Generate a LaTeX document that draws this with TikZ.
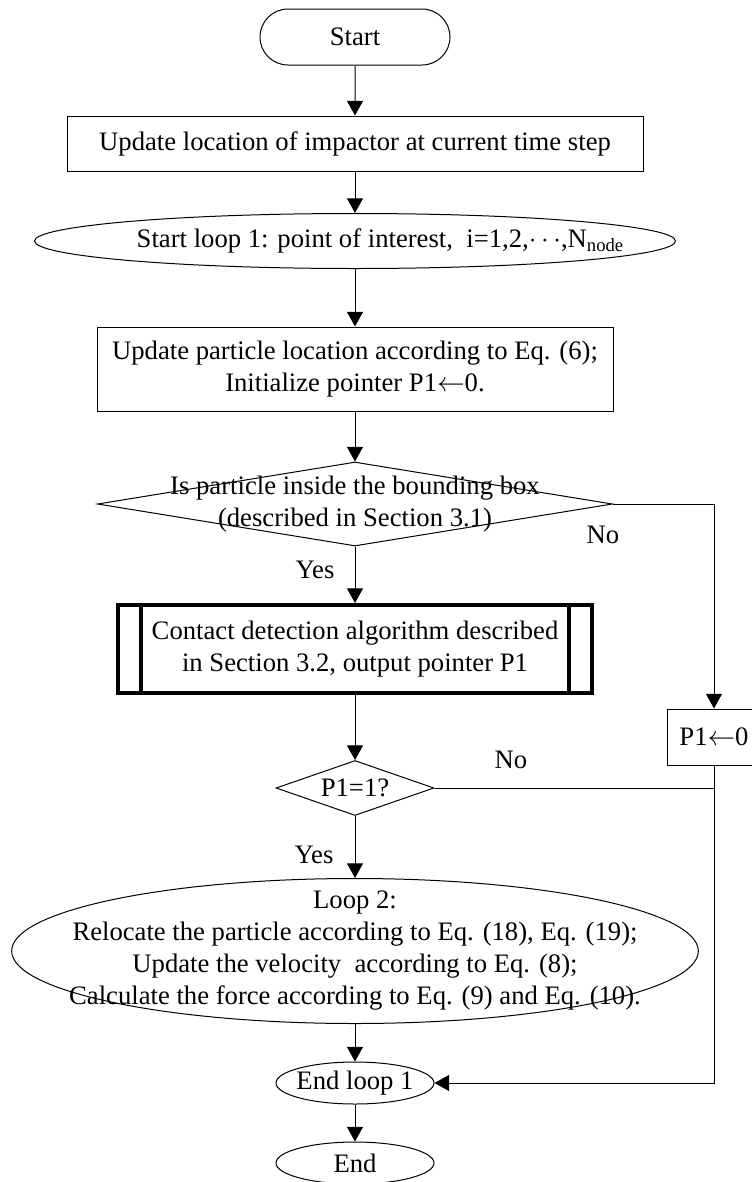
\documentclass[tikz,border=0pt]{standalone}
\usepackage{fontspec}
\setmainfont{Liberation Serif}
\usepackage{tikz}
\usetikzlibrary{shapes}
\usetikzlibrary{arrows.meta}
\usetikzlibrary{positioning}
\tikzset{
    Box/.style = {rectangle, draw=black, align=center, line width=0.75pt, inner sep=0pt}
}
\tikzset{
    Edge/.style = {draw=black, line width=0.75pt, -{Triangle[length=11pt,width=12pt]}}
}

\begin{document}
\begin{tikzpicture}[
    x=0.75pt, y=-0.75pt,
    font=\fontsize{20}{24}\selectfont
]
\tikzset{
    Term/.style = {rounded rectangle, draw=black, line width=0.75pt, inner sep=0pt},
    Oval/.style = {ellipse, draw=black, line width=0.75pt, inner sep=0pt},
    Decision/.style = {diamond, draw=black, line width=0.75pt, inner sep=0pt},
    Tag/.style = {inner sep=0pt}
}
\useasboundingbox (0,0) rectangle (752,1182);

\node[Term, minimum width=142.5pt, minimum height=42pt] at (355,37) (start) {Start};
\node[Box, minimum width=432pt, minimum height=41.25pt] at (355,143.5) (update) {Update location of impactor at current time step};
\node[Oval, minimum width=480.75pt, minimum height=41.25pt,
      label={[xshift=19pt]center:{Start loop 1: point of interest,\ \ i=1,2,$\cdots$,N\textsubscript{node}}}] at (355,241) (loop1) {};
\node[Box, minimum width=387pt, minimum height=63pt] at (355,369) (particle) {Update particle location according to Eq. (6);\\Initialize pointer P1$\leftarrow$0.};
\node[Decision, minimum width=386.25pt, minimum height=63pt,
      label={[align=center]center:{Is particle inside the bounding box\\(described in Section 3.1)}}] at (355,504) (inbox) {};
\node[Box, line width=3pt, minimum width=355.5pt, minimum height=66pt] at (355,649) (detect) {Contact detection algorithm described\\in Section 3.2, output pointer P1};
\draw[line width=3pt] ([xshift=18.75pt]detect.north west) -- ([xshift=18.75pt]detect.south west);
\draw[line width=3pt] ([xshift=-18.75pt]detect.north east) -- ([xshift=-18.75pt]detect.south east);
\node[Box, minimum width=70.5pt, minimum height=42pt] at (714,737) (p1zero) {P1$\leftarrow$0};
\node[Decision, minimum width=118.5pt, minimum height=41.25pt,
      label={center:P1=1?}] at (355,788) (p1check) {};
\node[Oval, minimum width=515pt, minimum height=108.75pt,
      label={[align=center]center:{Loop 2:\\Relocate the particle according to Eq. (18), Eq. (19);\\Update the velocity\ \ according to Eq. (8);\\Calculate the force according to Eq. (9) and Eq. (10).}}] at (355,951) (loop2) {};
\node[Oval, minimum width=118.5pt, minimum height=31.5pt,
      label={center:End loop 1}] at (355,1083) (endloop) {};
\node[Oval, minimum width=118.5pt, minimum height=31.5pt,
      label={center:End}] at (355,1163) (end) {};

\node[Tag] at (603,535) (no1) {No};
\node[Tag] at (315,570) (yes1) {Yes};
\node[Tag] at (511,760) (no2) {No};
\node[Tag] at (314,855) (yes2) {Yes};

\path (start) edge [Edge] (update);
\path (update) edge [Edge] (loop1);
\path (loop1) edge [Edge] (particle);
\path (particle) edge [Edge] (inbox);
\path (inbox) edge [Edge] (detect);
\path (detect) edge [Edge] (p1check);
\path (p1check) edge [Edge] (loop2);
\path (loop2) edge [Edge] (endloop);
\path (endloop) edge [Edge] (end);
\draw[Edge] (inbox.east) -| (p1zero.north);
\draw[Edge] (p1zero.south) |- (endloop.east);
\draw[line width=0.75pt] (p1check.east) -- (p1check.east -| p1zero.south);
\end{tikzpicture}
\end{document}
